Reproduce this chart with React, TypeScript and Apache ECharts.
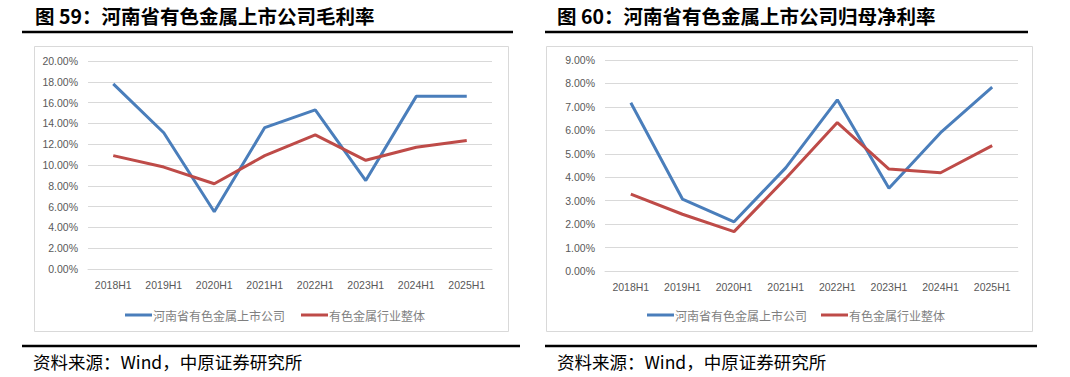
import React, { useEffect, useRef } from "react";
import * as echarts from "echarts";

const categories = ["2018H1", "2019H1", "2020H1", "2021H1", "2022H1", "2023H1", "2024H1", "2025H1"];
const seriesNames = ["河南省有色金属上市公司", "有色金属行业整体"];
// 图59 毛利率 (%)
const grossHenan = [17.8, 13.1, 5.5, 13.6, 15.3, 8.5, 16.6, 16.6];
const grossIndustry = [10.9, 9.8, 8.2, 10.9, 12.9, 10.45, 11.7, 12.35];
// 图60 归母净利率 (%)
const netHenan = [7.18, 3.07, 2.1, 4.4, 7.3, 3.53, 5.9, 7.84];
const netIndustry = [3.28, 2.42, 1.68, 3.95, 6.33, 4.35, 4.19, 5.35];

const leftTitle = "图 59：河南省有色金属上市公司毛利率";
const rightTitle = "图 60：河南省有色金属上市公司归母净利率";
const sourceText = "资料来源：Wind，中原证券研究所";

const BLUE = "#4a7ebb";
const RED = "#be4b48";
const GRID = "#d9d9d9";
const LABEL = "#595959";

export default function App() {
  const ref = useRef<HTMLDivElement>(null);
  useEffect(() => {
    document.body.style.margin = "0";
    const chart = echarts.init(ref.current!, null, { renderer: "svg" });
    const fmt = (v: number) => v.toFixed(2) + "%";
    const xAxisBase = {
      type: "category",
      data: categories,
      boundaryGap: true,
      axisLine: { lineStyle: { color: GRID, width: 1 } },
      axisTick: { show: false },
      axisLabel: { color: LABEL, fontSize: 10.5, fontFamily: "Liberation Sans", margin: 10 },
    };
    const yAxisBase = {
      type: "value",
      min: 0,
      axisLine: { show: false },
      axisTick: { show: false },
      splitLine: { lineStyle: { color: GRID, width: 1 } },
      axisLabel: { color: LABEL, fontSize: 10.5, fontFamily: "Liberation Sans", formatter: fmt, margin: 10 },
    };
    const lineSeries = (name: string, data: number[], color: string, idx: number) => ({
      type: "line",
      name,
      data,
      xAxisIndex: idx,
      yAxisIndex: idx,
      symbol: "none",
      lineStyle: { color, width: 3 },
      itemStyle: { color },
    });
    const legendBase = {
      icon: "rect",
      itemWidth: 27,
      itemHeight: 3,
      top: 304,
      data: seriesNames,
      textStyle: { color: "#7f7f7f", fontSize: 12, fontFamily: "Noto Sans CJK SC", padding: [0, 0, 0, -4] },
      selectedMode: false,
    };
    const titleStyle = { fill: "#000", fontSize: 19.5, fontWeight: "bold", fontFamily: "Noto Sans CJK SC" };
    const srcStyle = { fill: "#000", fontSize: 17.5, fontFamily: "Noto Sans CJK SC" };
    chart.setOption({
      animation: false,
      backgroundColor: "#fff",
      grid: [
        { left: 88, right: 1070 - 492, top: 61, bottom: 377 - 269 },
        { left: 605, right: 1070 - 1018, top: 60, bottom: 377 - 271 },
      ],
      xAxis: [
        { ...xAxisBase, gridIndex: 0 },
        { ...xAxisBase, gridIndex: 1 },
      ],
      yAxis: [
        { ...yAxisBase, gridIndex: 0, max: 20, interval: 2 },
        { ...yAxisBase, gridIndex: 1, max: 9, interval: 1 },
      ],
      legend: [
        { ...legendBase, left: 120, itemGap: 16 },
        { ...legendBase, left: 642, itemGap: 14 },
      ],
      series: [
        lineSeries(seriesNames[0], grossHenan, BLUE, 0),
        lineSeries(seriesNames[1], grossIndustry, RED, 0),
        lineSeries(seriesNames[0], netHenan, BLUE, 1),
        lineSeries(seriesNames[1], netIndustry, RED, 1),
      ],
      graphic: [
        { type: "rect", shape: { x: 34.5, y: 46.5, width: 474, height: 285 }, style: { fill: "none", stroke: GRID, lineWidth: 1 }, z: -1 },
        { type: "rect", shape: { x: 546.5, y: 46.5, width: 486, height: 285 }, style: { fill: "none", stroke: GRID, lineWidth: 1 }, z: -1 },
        { type: "line", shape: { x1: 22, y1: 32, x2: 513, y2: 32 }, style: { stroke: "#000", lineWidth: 2.5 } },
        { type: "line", shape: { x1: 545, y1: 32, x2: 1028, y2: 32 }, style: { stroke: "#000", lineWidth: 2.5 } },
        { type: "line", shape: { x1: 22, y1: 346, x2: 520, y2: 346 }, style: { stroke: "#000", lineWidth: 2.5 } },
        { type: "line", shape: { x1: 545, y1: 346, x2: 1037, y2: 346 }, style: { stroke: "#000", lineWidth: 2.5 } },
        { type: "text", x: 35, y: 15, style: { ...titleStyle, text: leftTitle, verticalAlign: "middle" } },
        { type: "text", x: 557, y: 15, style: { ...titleStyle, text: rightTitle, verticalAlign: "middle" } },
        { type: "text", x: 33, y: 361, style: { ...srcStyle, text: sourceText, verticalAlign: "middle" } },
        { type: "text", x: 557, y: 361, style: { ...srcStyle, text: sourceText, verticalAlign: "middle" } },
      ],
    });
    return () => chart.dispose();
  }, []);
  return <div ref={ref} style={{ width: 1070, height: 377 }} />;
}
